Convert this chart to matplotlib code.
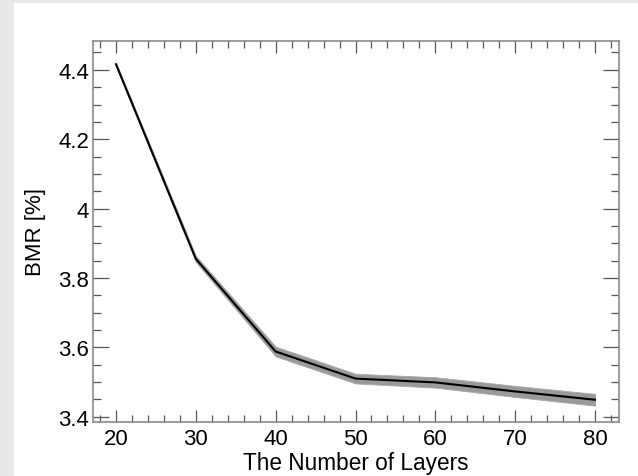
import matplotlib.pyplot as plt
from matplotlib.patches import Rectangle
from matplotlib.ticker import MultipleLocator, FuncFormatter

plt.rcParams['font.family'] = ['Liberation Sans', 'DejaVu Sans']

# data
layers = [20, 30, 40, 50, 60, 70, 80]
bmr = [4.416, 3.855, 3.588, 3.510, 3.499, 3.473, 3.449]
spread = [0.005, 0.009, 0.014, 0.014, 0.015, 0.016, 0.017]

lower = [b - s for b, s in zip(bmr, spread)]
upper = [b + s for b, s in zip(bmr, spread)]

fig = plt.figure(figsize=(6.38, 4.77), dpi=100)
fig.patch.set_facecolor('#e8e8e8')
# white panel behind the plot
panel = Rectangle((14 / 638, 0), 1, 1 - 4 / 477, transform=fig.transFigure,
                  facecolor='white', edgecolor='none', zorder=-10)
fig.add_artist(panel)

ax = fig.add_axes([92.7 / 638, 1 - 423.3 / 477, (619.3 - 92.7) / 638, (423.3 - 41.7) / 477])
ax.set_zorder(1)

ax.fill_between(layers, lower, upper, color='#9a9a9a', linewidth=0.6, edgecolor='#a8a8a8')
ax.plot(layers, bmr, color='black', linewidth=1.5)

ax.set_xlim(17.08, 83.04)
ax.set_ylim(3.384, 4.484)

ax.xaxis.set_major_locator(MultipleLocator(10))
ax.xaxis.set_minor_locator(MultipleLocator(2))
ax.yaxis.set_major_locator(MultipleLocator(0.2))
ax.yaxis.set_minor_locator(MultipleLocator(0.05))
ax.yaxis.set_major_formatter(FuncFormatter(lambda v, p: '%g' % round(v, 2)))

ax.tick_params(axis='both', which='both', direction='in', top=True, right=True,
               color='#555555', width=0.9, labelsize=16)
ax.tick_params(axis='x', which='major', length=8.6, pad=4)
ax.tick_params(axis='x', which='minor', length=4.8)
ax.tick_params(axis='y', which='major', length=11.5, pad=2.5)
ax.tick_params(axis='y', which='minor', length=5.8)

for sp in ax.spines.values():
    sp.set_color('#8a8a8a')
    sp.set_linewidth(1.2)

ax.set_xlabel('The Number of Layers', fontsize=16.3, labelpad=1.5)
ax.set_ylabel('BMR [%]', fontsize=16, labelpad=9)

fig.savefig('out.png', dpi=100, facecolor=fig.get_facecolor())
